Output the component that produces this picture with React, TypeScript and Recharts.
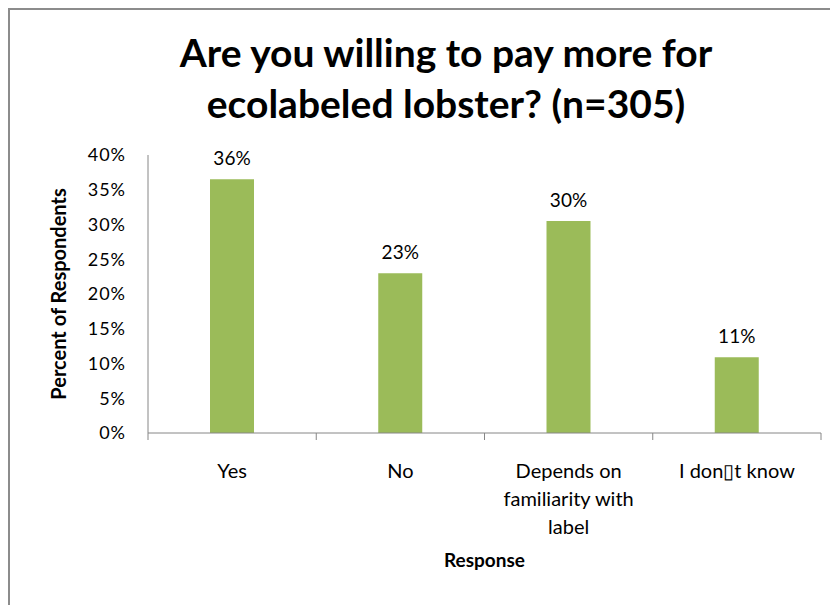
import { BarChart, Bar, XAxis, YAxis, LabelList, Label } from "recharts";

const categories = ["Yes", "No", "Depends on familiarity with label", "I don\u25AFt know"];
const categoryLines = [["Yes"], ["No"], ["Depends on", "familiarity with", "label"], ["I don\u25AFt know"]];
const percents = [36.5, 23.0, 30.5, 10.9];
const yTicks = [0, 5, 10, 15, 20, 25, 30, 35, 40];

const data = categories.map((name, i) => ({ name, value: percents[i] }));

const FONT = "Lato, 'Open Sans', sans-serif";
const W = 828;
const H = 595;
const margin = { top: 145, right: 17, bottom: 42, left: 0 };
const Y_AXIS_W = 138;
const band = (W - margin.left - margin.right - Y_AXIS_W) / categories.length;

function XTick(props: any) {
  const { x, y, payload, index } = props;
  const lines = categoryLines[index] ?? [payload.value];
  return (
    <g>
      <line x1={x - band / 2} x2={x - band / 2} y1={y} y2={y + 7} stroke="#868686" />
      {index === categories.length - 1 && (
        <line x1={x + band / 2} x2={x + band / 2} y1={y} y2={y + 7} stroke="#868686" />
      )}
      {lines.map((l: string, i: number) => (
        <text key={i} x={x} y={y + 45 + i * 28} textAnchor="middle" fontSize={20} fill="#000" fontFamily={FONT}>
          {l}
        </text>
      ))}
    </g>
  );
}

export default function App() {
  return (
    <div
      style={{
        position: "relative",
        width: 830,
        height: 597,
        boxSizing: "border-box",
        borderLeft: "2px solid #8c8c8c",
        borderTop: "2px solid #8c8c8c",
        background: "#fff",
        fontFamily: FONT,
      }}
    >
      <div
        style={{
          position: "absolute",
          left: 0,
          top: 17,
          width: 872,
          textAlign: "center",
          fontWeight: 700,
          fontSize: 39,
          lineHeight: "51px",
          color: "#000",
        }}
      >
        Are you willing to pay more for
        <br />
        ecolabeled lobster? (n=305)
      </div>
      <BarChart width={W} height={H} data={data} margin={margin}>
        <YAxis
          width={Y_AXIS_W}
          domain={[0, 40]}
          ticks={yTicks}
          tickFormatter={(v: number) => `${v}%`}
          tickLine={false}
          tickMargin={16}
          axisLine={{ stroke: "#868686" }}
          tick={{ fontSize: 18, fill: "#000", fontFamily: FONT, letterSpacing: 1 }}
        >
          <Label
            content={(p: any) => {
              const vb = p.viewBox;
              const cx = vb.x + 48;
              const cy = vb.y + vb.height / 2;
              return (
                <text
                  x={cx}
                  y={cy}
                  transform={`rotate(-90 ${cx} ${cy})`}
                  textAnchor="middle"
                  dominantBaseline="central"
                  fontSize={20}
                  fontWeight={700}
                  fontFamily={FONT}
                  fill="#000"
                >
                  Percent of Respondents
                </text>
              );
            }}
          />
        </YAxis>
        <XAxis
          dataKey="name"
          height={130}
          interval={0}
          tickLine={false}
          tickSize={0}
          tickMargin={0}
          axisLine={{ stroke: "#868686" }}
          tick={<XTick />}
        >
          <Label
            content={(p: any) => {
              const vb = p.viewBox;
              return (
                <text
                  x={vb.x + vb.width / 2}
                  y={vb.y + 134}
                  textAnchor="middle"
                  fontSize={19}
                  fontWeight={700}
                  fontFamily={FONT}
                  fill="#000"
                >
                  Response
                </text>
              );
            }}
          />
        </XAxis>
        <Bar dataKey="value" fill="#9BBB59" barSize={44} isAnimationActive={false}>
          <LabelList
            dataKey="value"
            position="top"
            offset={14}
            formatter={(v: any) => `${Math.round(Number(v) - 0.2)}%`}
            style={{ fontSize: 19, fill: "#000", fontFamily: FONT }}
          />
        </Bar>
      </BarChart>
    </div>
  );
}
